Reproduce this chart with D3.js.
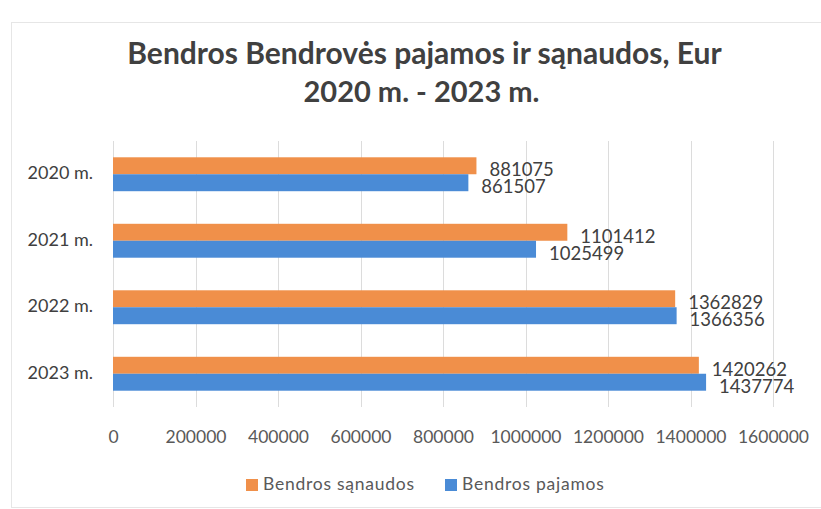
<!DOCTYPE html>
<html>
<head>
<meta charset="utf-8">
<script src="https://cdn.jsdelivr.net/npm/d3@7"></script>
<style>
  html, body { margin: 0; padding: 0; background: #fff; }
  svg { display: block; }
  text { font-family: Lato, "Open Sans", sans-serif; }
</style>
</head>
<body>
<svg id="chart" width="821" height="509"></svg>
<script>
const categories = ["2020 m.", "2021 m.", "2022 m.", "2023 m."];
const seriesNames = ["Bendros sąnaudos", "Bendros pajamos"];
const sanaudos = [881075, 1101412, 1362829, 1420262];
const pajamos = [861507, 1025499, 1366356, 1437774];
const tickValues = [0, 200000, 400000, 600000, 800000, 1000000, 1200000, 1400000, 1600000];
const titleLines = ["Bendros Bendrovės pajamos ir sąnaudos, Eur", "2020 m. - 2023 m."];
const colors = ["#F0904A", "#4A8BD6"];

const seriesValues = [sanaudos, pajamos];
const svg = d3.select("#chart");

// frame
svg.append("rect")
  .attr("x", 11.5).attr("y", 22.5).attr("width", 820).attr("height", 485)
  .attr("fill", "none").attr("stroke", "#e6e6e6").attr("stroke-width", 1);

const plotTop = 141, plotBottom = 407;
const x = d3.scaleLinear().domain([0, 1600000]).range([113, 773]);
const y = d3.scaleBand().domain(categories).range([plotTop, plotBottom])
  .paddingInner(0.49).paddingOuter(0.245);
const ySub = d3.scaleBand().domain(seriesNames).range([0, y.bandwidth()]);

// gridlines
svg.append("g").selectAll("line").data(tickValues).join("line")
  .attr("x1", d => Math.round(x(d)) + 0.5).attr("x2", d => Math.round(x(d)) + 0.5)
  .attr("y1", plotTop).attr("y2", plotBottom)
  .attr("stroke", "#dcdcdc").attr("stroke-width", 1);

// x axis tick labels
const xAxis = d3.axisBottom(x).tickValues(tickValues).tickSize(0).tickPadding(0)
  .tickFormat(d3.format("d"));
const gx = svg.append("g").attr("transform", `translate(0,${plotBottom})`).call(xAxis);
gx.select(".domain").remove();
gx.selectAll("text")
  .attr("y", 29.5).attr("dy", "0.35em")
  .attr("font-family", "Lato, sans-serif")
  .attr("font-size", 17.5).attr("fill", "#595959");

// y axis labels
const yAxis = d3.axisLeft(y).tickSize(0).tickPadding(0);
const gy = svg.append("g").attr("transform", `translate(93,-1)`).call(yAxis);
gy.select(".domain").remove();
gy.selectAll("text")
  .attr("font-family", "Lato, sans-serif")
  .attr("font-size", 18).attr("fill", "#404040");

// bars
const groups = svg.append("g").selectAll("g").data(categories).join("g")
  .attr("transform", d => `translate(0,${y(d)})`);

groups.selectAll("rect")
  .data((c, i) => seriesNames.map((s, j) => ({ s, j, v: seriesValues[j][i] })))
  .join("rect")
  .attr("x", x(0))
  .attr("y", d => ySub(d.s))
  .attr("width", d => x(d.v) - x(0))
  .attr("height", ySub.bandwidth())
  .attr("fill", d => colors[d.j]);

// data labels
groups.selectAll("text.lbl")
  .data((c, i) => seriesNames.map((s, j) => ({ s, j, v: seriesValues[j][i] })))
  .join("text")
  .attr("class", "lbl")
  .attr("x", d => x(d.v) + 13)
  .attr("y", d => ySub(d.s) + ySub.bandwidth() / 2 + 4)
  .attr("dy", "0.35em")
  .attr("font-size", 18.5)
  .attr("fill", "#404040")
  .text(d => d.v);

// title
svg.append("g").selectAll("text").data(titleLines).join("text")
  .attr("x", (d, i) => i === 0 ? 424.5 : 421.5)
  .attr("y", (d, i) => i === 0 ? 63.5 : 101.7)
  .attr("text-anchor", "middle")
  .attr("font-weight", "bold")
  .attr("font-size", (d, i) => i === 0 ? 30 : 29)
  .attr("fill", "#404040")
  .text(d => d);

// legend
const legendPos = [{ sx: 246, tx: 263 }, { sx: 445, tx: 462 }];
const lg = svg.append("g").selectAll("g").data(seriesNames).join("g");
lg.append("rect")
  .attr("x", (d, i) => legendPos[i].sx).attr("y", 479)
  .attr("width", 12).attr("height", 12)
  .attr("fill", (d, i) => colors[i]);
lg.append("text")
  .attr("x", (d, i) => legendPos[i].tx).attr("y", 490)
  .attr("font-size", 17.5).attr("letter-spacing", 0.75).attr("fill", "#595959")
  .text(d => d);
</script>
</body>
</html>
